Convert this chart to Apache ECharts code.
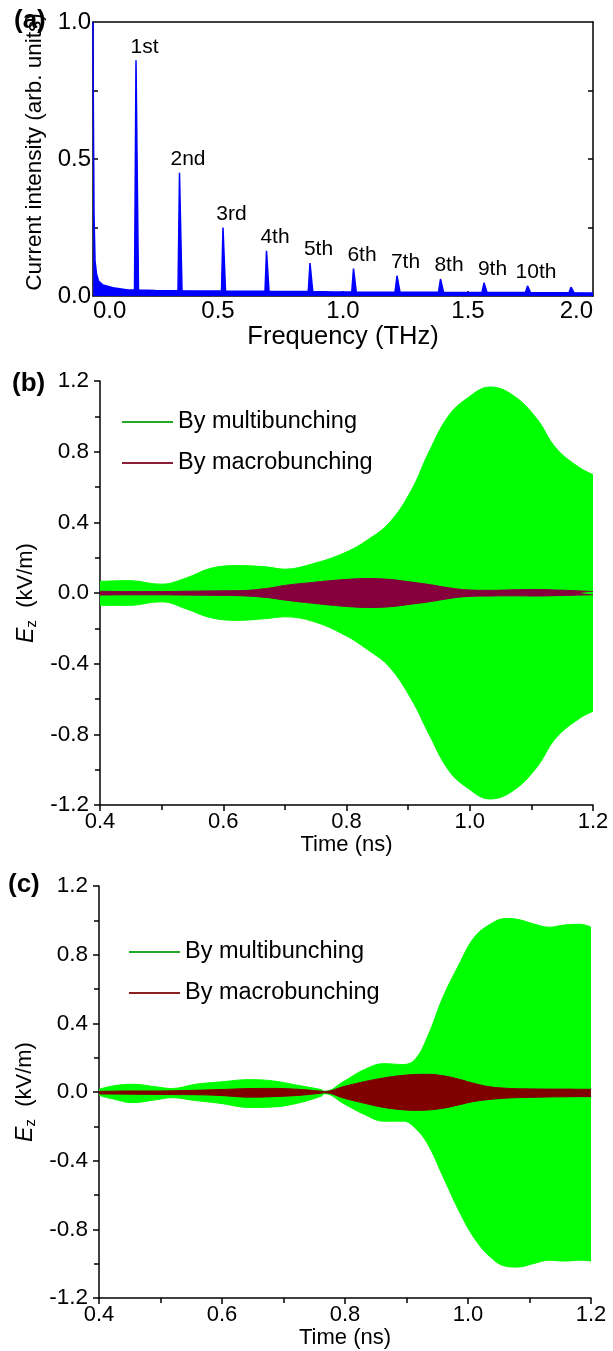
<!DOCTYPE html>
<html>
<head>
<meta charset="utf-8">
<title>Multibunching spectrum and fields</title>
<script src="https://cdn.jsdelivr.net/npm/echarts@6.0.0/dist/echarts.min.js"></script>
<style>
  html, body { margin: 0; padding: 0; background: #fff; }
  #chart { width: 613px; height: 1351px; }
</style>
</head>
<body>
<div id="chart"></div>
<script>
// (a) current spectrum
const spectrumFreq = [0.000, 0.001, 0.004, 0.008, 0.014, 0.022, 0.040, 0.080, 0.140,
  0.166, 0.172, 0.176, 0.182, 0.250, 0.340, 0.346, 0.350, 0.356, 0.430,
  0.514, 0.520, 0.524, 0.530, 0.600, 0.688, 0.694, 0.698, 0.704, 0.780,
  0.861, 0.868, 0.872, 0.879, 0.960, 1.035, 1.042, 1.046, 1.053, 1.130,
  1.208, 1.216, 1.220, 1.228, 1.300, 1.382, 1.390, 1.394, 1.402, 1.480,
  1.556, 1.564, 1.568, 1.576, 1.650, 1.730, 1.738, 1.742, 1.750, 1.830,
  1.904, 1.912, 1.916, 1.924, 2.000]
const spectrumIntensity = [1.0, 0.75, 0.30, 0.13, 0.08, 0.055, 0.040, 0.030, 0.022,
  0.022, 0.86, 0.86, 0.022, 0.020, 0.019, 0.45, 0.45, 0.019, 0.018,
  0.018, 0.25, 0.25, 0.018, 0.017, 0.017, 0.165, 0.165, 0.017, 0.016,
  0.016, 0.12, 0.12, 0.016, 0.015, 0.015, 0.10, 0.10, 0.015, 0.014,
  0.014, 0.074, 0.074, 0.014, 0.014, 0.014, 0.062, 0.062, 0.014, 0.013,
  0.013, 0.048, 0.048, 0.013, 0.013, 0.013, 0.037, 0.037, 0.013, 0.012,
  0.012, 0.032, 0.032, 0.012, 0.011]
const harmonicNames = ['1st', '2nd', '3rd', '4th', '5th', '6th', '7th', '8th', '9th', '10th']
const harmonicFreq = [0.174, 0.348, 0.522, 0.696, 0.870, 1.044, 1.218, 1.392, 1.566, 1.740]
const harmonicPeak = [0.86, 0.45, 0.25, 0.165, 0.12, 0.10, 0.074, 0.062, 0.048, 0.037]
const freqTicks = [0, 0.5, 1.0, 1.5, 2.0]
const intensityTicks = [0, 0.5, 1.0]

// (b) Ez envelopes
const bTime = [0.400, 0.446, 0.500, 0.540, 0.580, 0.624, 0.669, 0.700, 0.745, 0.796, 0.834,
  0.870, 0.905, 0.934, 0.965, 0.995, 1.033, 1.070, 1.108, 1.140, 1.178, 1.200]
const bMultiUpper = [0.066, 0.070, 0.050, 0.085, 0.140, 0.155, 0.148, 0.135, 0.165, 0.226, 0.300,
  0.400, 0.580, 0.800, 1.000, 1.100, 1.166, 1.120, 0.990, 0.820, 0.710, 0.670]
const bMultiLower = [-0.070, -0.070, -0.050, -0.090, -0.140, -0.155, -0.145, -0.135, -0.160, -0.236, -0.320,
  -0.420, -0.600, -0.800, -1.000, -1.100, -1.166, -1.120, -0.990, -0.820, -0.710, -0.670]
const bMacroUpper = [0.010, 0.008, 0.008, 0.010, 0.012, 0.013, 0.025, 0.043, 0.060, 0.076, 0.082,
  0.077, 0.062, 0.048, 0.030, 0.018, 0.015, 0.018, 0.020, 0.017, 0.012, 0.008]
const bMacroLower = [-0.012, -0.010, -0.010, -0.012, -0.013, -0.015, -0.025, -0.040, -0.058, -0.075, -0.082,
  -0.078, -0.063, -0.050, -0.032, -0.020, -0.017, -0.016, -0.017, -0.015, -0.012, -0.010]

// (c) Ez envelopes
const cTime = [0.400, 0.422, 0.454, 0.493, 0.518, 0.557, 0.595, 0.646, 0.684, 0.723, 0.761,
  0.767, 0.799, 0.831, 0.863, 0.895, 0.914, 0.934, 0.959, 0.985, 1.010, 1.036, 1.061,
  1.080, 1.106, 1.132, 1.157, 1.183, 1.200]
const cMultiUpper = [0.016, 0.035, 0.045, 0.030, 0.020, 0.045, 0.058, 0.072, 0.064, 0.039, 0.014,
  0.004, 0.064, 0.130, 0.165, 0.160, 0.190, 0.320, 0.550, 0.740, 0.900, 0.977, 1.010,
  1.006, 0.980, 0.960, 0.973, 0.977, 0.960]
const cMultiLower = [-0.020, -0.040, -0.062, -0.045, -0.033, -0.050, -0.065, -0.090, -0.087, -0.065, -0.025,
  -0.010, -0.070, -0.130, -0.170, -0.170, -0.210, -0.300, -0.490, -0.690, -0.850, -0.960, -1.015,
  -1.020, -1.000, -0.980, -0.985, -0.980, -0.985]
const cMacroUpper = [0.004, 0.005, 0.006, 0.006, 0.007, 0.010, 0.014, 0.020, 0.021, 0.016, 0.005,
  0.003, 0.033, 0.060, 0.082, 0.097, 0.102, 0.103, 0.095, 0.075, 0.050, 0.030, 0.022,
  0.019, 0.018, 0.017, 0.017, 0.016, 0.016]
const cMacroLower = [-0.012, -0.012, -0.013, -0.014, -0.015, -0.016, -0.020, -0.030, -0.027, -0.020, -0.007,
  -0.004, -0.037, -0.065, -0.090, -0.104, -0.107, -0.105, -0.095, -0.075, -0.055, -0.043, -0.036,
  -0.033, -0.031, -0.029, -0.028, -0.027, -0.027]

const FONT = 'Liberation Sans, Arial, sans-serif'
const pair = (xs, ys) => xs.map((x, i) => [x, ys[i]])

const myChart = echarts.init(document.getElementById('chart'), null, { renderer: 'canvas' })

const axisLine = { show: true, onZero: false, lineStyle: { color: '#000', width: 1.5 } }
const tickLine = { color: '#000', width: 1.5 }

function timeAxis(gridIndex) {
  return {
    type: 'value',
    gridIndex,
    min: 0.4,
    max: 1.2,
    interval: 0.2,
    axisLine,
    axisTick: { show: true, inside: false, length: 6, lineStyle: tickLine },
    minorTick: { show: true, splitNumber: 2, length: 5, lineStyle: tickLine },
    axisLabel: { color: '#000', fontSize: 22, fontFamily: FONT, margin: 6, formatter: (v) => v.toFixed(1) },
    splitLine: { show: false },
    name: 'Time (ns)',
    nameLocation: 'middle',
    nameGap: 28,
    nameTextStyle: { color: '#000', fontSize: 22, fontFamily: FONT },
  }
}

function fieldAxis(gridIndex) {
  return {
    type: 'value',
    gridIndex,
    min: -1.2,
    max: 1.2,
    interval: 0.4,
    axisLine,
    axisTick: { show: true, inside: false, length: 6, lineStyle: tickLine },
    minorTick: { show: true, splitNumber: 2, length: 5, lineStyle: tickLine },
    axisLabel: { color: '#000', fontSize: 22.5, fontFamily: FONT, margin: 11, formatter: (v) => v.toFixed(1) },
    splitLine: { show: false },
    name: '{e|E}{z|z}{n|  (kV/m)}',
    nameLocation: 'middle',
    nameGap: 47,
    nameTextStyle: {
      color: '#000',
      fontFamily: FONT,
      rich: {
        e: { fontSize: 23, fontStyle: 'italic', fontFamily: FONT, color: '#000', lineHeight: 26 },
        z: { fontSize: 15, fontFamily: FONT, color: '#000', lineHeight: 15, verticalAlign: 'bottom' },
        n: { fontSize: 22, fontFamily: FONT, color: '#000', lineHeight: 26 },
      },
    },
  }
}

// 包络带：上、下包络各自填充到 0
function band(name, xs, upper, lower, color, xi, yi) {
  const common = {
    name,
    type: 'line',
    xAxisIndex: xi,
    yAxisIndex: yi,
    smooth: 0.4,
    showSymbol: false,
    silent: true,
    lineStyle: { color, width: 1 },
    itemStyle: { color },
    areaStyle: { color, opacity: 1, origin: 0 },
  }
  return [
    { ...common, data: pair(xs, upper) },
    { ...common, data: pair(xs, lower) },
  ]
}

function legendFor(left, top, macroColor) {
  return {
    left,
    top,
    orient: 'vertical',
    padding: 0,
    itemGap: 15,
    icon: 'rect',
    itemWidth: 51,
    itemHeight: 2,
    selectedMode: false,
    textStyle: { color: '#000', fontSize: 23.5, fontFamily: FONT, lineHeight: 26 },
    data: [
      { name: 'By multibunching', itemStyle: { color: '#25a825' } },
      { name: 'By macrobunching', itemStyle: { color: macroColor } },
    ],
  }
}

const option = {
  animation: false,
  backgroundColor: '#fff',
  textStyle: { fontFamily: FONT },
  graphic: [
    { type: 'text', left: 14, top: 8, style: { text: '(a)', font: 'bold 26px ' + FONT, fill: '#000' } },
    { type: 'text', left: 12, top: 371, style: { text: '(b)', font: 'bold 26px ' + FONT, fill: '#000' } },
    { type: 'text', left: 8, top: 872, style: { text: '(c)', font: 'bold 26px ' + FONT, fill: '#000' } },
  ],
  legend: [legendFor(122, 409, '#8b1f3a'), legendFor(129, 939, '#8b2020')],
  grid: [
    { left: 93, top: 22, width: 500, height: 274 },
    { left: 100, top: 381, width: 493, height: 424 },
    { left: 99, top: 886, width: 492, height: 412 },
  ],
  xAxis: [
    {
      type: 'value',
      gridIndex: 0,
      min: 0,
      max: 2,
      axisLine,
      axisTick: { show: true, inside: true, length: 5, customValues: [0.5, 1.0, 1.5], lineStyle: tickLine },
      axisLabel: {
        color: '#000',
        fontSize: 24,
        fontFamily: FONT,
        margin: 3,
        customValues: freqTicks,
        alignMinLabel: 'left',
        alignMaxLabel: 'right',
        formatter: (v) => v.toFixed(1),
      },
      splitLine: { show: false },
      name: 'Frequency (THz)',
      nameLocation: 'middle',
      nameGap: 26,
      nameTextStyle: { color: '#000', fontSize: 25.5, fontFamily: FONT },
    },
    {
      type: 'value',
      gridIndex: 0,
      position: 'top',
      min: 0,
      max: 2,
      axisLine,
      axisTick: { show: false },
      axisLabel: { show: false },
      splitLine: { show: false },
    },
    timeAxis(1),
    timeAxis(2),
  ],
  yAxis: [
    {
      type: 'value',
      gridIndex: 0,
      min: 0,
      max: 1,
      axisLine,
      axisTick: { show: true, inside: true, length: 5, customValues: [0.25, 0.5, 0.75], lineStyle: tickLine },
      axisLabel: { color: '#000', fontSize: 24, fontFamily: FONT, margin: 2, customValues: intensityTicks, formatter: (v) => v.toFixed(1) },
      splitLine: { show: false },
      name: 'Current intensity (arb. units)',
      nameLocation: 'middle',
      nameGap: 45,
      nameTextStyle: { color: '#000', fontSize: 22.5, fontFamily: FONT, padding: [0, 0, 0, 14] },
    },
    {
      type: 'value',
      gridIndex: 0,
      position: 'right',
      min: 0,
      max: 1,
      axisLine,
      axisTick: { show: true, inside: true, length: 5, customValues: [0.25, 0.5, 0.75], lineStyle: tickLine },
      axisLabel: { show: false },
      splitLine: { show: false },
    },
    fieldAxis(1),
    fieldAxis(2),
  ],
  series: [
    {
      name: 'spectrum',
      type: 'line',
      xAxisIndex: 0,
      yAxisIndex: 0,
      showSymbol: false,
      silent: true,
      lineStyle: { color: '#0000ff', width: 1.5 },
      areaStyle: { color: '#0000ff', opacity: 1, origin: 0 },
      data: pair(spectrumFreq, spectrumIntensity),
      z: 2,
    },
    {
      name: 'harmonics',
      type: 'scatter',
      xAxisIndex: 0,
      yAxisIndex: 0,
      symbolSize: 0,
      silent: true,
      itemStyle: { opacity: 1 },
      label: {
        show: true,
        position: 'top',
        distance: 3,
        offset: [8, 0],
        color: '#000',
        fontSize: 21,
        fontFamily: FONT,
        formatter: (p) => p.name,
      },
      data: harmonicNames.map((n, i) => ({ name: n, value: [harmonicFreq[i], harmonicPeak[i]] })),
      z: 3,
    },
    ...band('By multibunching', bTime, bMultiUpper, bMultiLower, '#00ff00', 2, 2),
    ...band('By macrobunching', bTime, bMacroUpper, bMacroLower, '#85003c', 2, 2),
    ...band('By multibunching', cTime, cMultiUpper, cMultiLower, '#00ff00', 3, 3),
    ...band('By macrobunching', cTime, cMacroUpper, cMacroLower, '#800000', 3, 3),
  ],
}

myChart.setOption(option)
</script>
</body>
</html>
